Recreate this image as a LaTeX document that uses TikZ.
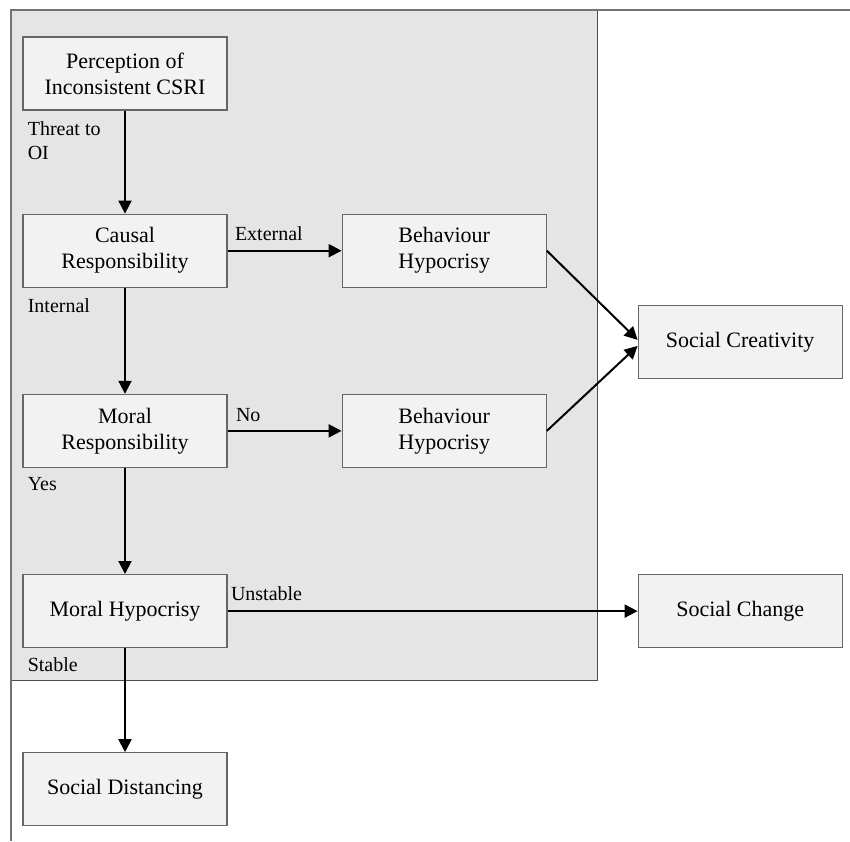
\documentclass[tikz,border=0pt]{standalone}
\usepackage{fontspec}
\setmainfont{Liberation Serif}
\usetikzlibrary{positioning,arrows.meta}

\tikzset{
  stage/.style={draw=black!60, fill=black!5, line width=0.6pt, rectangle,
    minimum width=102pt, minimum height=36.5pt, align=center,
    font=\fontsize{11}{13}\selectfont, inner sep=2pt},
  lbl/.style={font=\fontsize{10}{12}\selectfont, inner sep=0pt, align=left},
  flow/.style={line width=1pt, -{Triangle[length=6.5pt,width=6.5pt]}}
}

\begin{document}
\begin{tikzpicture}[x=0.5pt, y=-0.5pt]
  \useasboundingbox (0,0) rectangle (850,841);
  % grey panel and page frame
  \fill[black!10] (11,10) rectangle (597,680);
  \draw[black!70, line width=0.5pt] (597,10) -- (597,680) -- (11,680);
  \draw[black!55, line width=0.6pt] (11,841) -- (11,10) -- (850,10);

  \node[stage] (perc) at (125,73.5) {Perception of\\Inconsistent CSRI};
  \node[stage, below=51.5pt of perc] (causal) {Causal\\Responsibility};
  \node[stage, right=57pt of causal] (behext) {Behaviour\\Hypocrisy};
  \node[stage, below=53pt of causal] (moralr) {Moral\\Responsibility};
  \node[stage, right=57pt of moralr] (behno) {Behaviour\\Hypocrisy};
  \node[stage, below=53pt of moralr] (moralh) {Moral Hypocrisy};
  \node[stage, below=52pt of moralh] (socdist) {Social Distancing};
  \node[stage, right=205pt of moralh] (socchg) {Social Change};
  \node[stage, above=97.5pt of socchg] (soccre) {Social Creativity};

  \node[lbl, anchor=north west] (threat) at ([xshift=2.5pt,yshift=-5.5pt]perc.south west) {Threat to\\OI};
  \node[lbl, anchor=base west] (internal) at ([xshift=2.5pt,yshift=-12.5pt]causal.south west) {Internal};
  \node[lbl, anchor=base west] (yes) at ([xshift=2.5pt,yshift=-11pt]moralr.south west) {Yes};
  \node[lbl, anchor=base west] (stable) at ([xshift=2.5pt,yshift=-11.5pt]moralh.south west) {Stable};
  \node[lbl, anchor=base west] (external) at ([xshift=3.5pt,yshift=5pt]causal.east) {External};
  \node[lbl, anchor=base west] (no) at ([xshift=4pt,yshift=4.5pt]moralr.east) {No};
  \node[lbl, anchor=base west] (unstable) at ([xshift=1.5pt,yshift=5.5pt]moralh.east) {Unstable};

  \draw[flow] (perc.south) -- (causal.north);
  \draw[flow] (causal.south) -- (moralr.north);
  \draw[flow] (moralr.south) -- (moralh.north);
  \draw[flow] (moralh.south) -- (socdist.north);
  \draw[flow] (causal.east) -- (behext.west);
  \draw[flow] (moralr.east) -- (behno.west);
  \draw[flow] (moralh.east) -- (socchg.west);
  \draw[flow] (behext.east) -- ([yshift=1pt]soccre.west);
  \draw[flow] (behno.east) -- ([yshift=-2pt]soccre.west);
\end{tikzpicture}
\end{document}
